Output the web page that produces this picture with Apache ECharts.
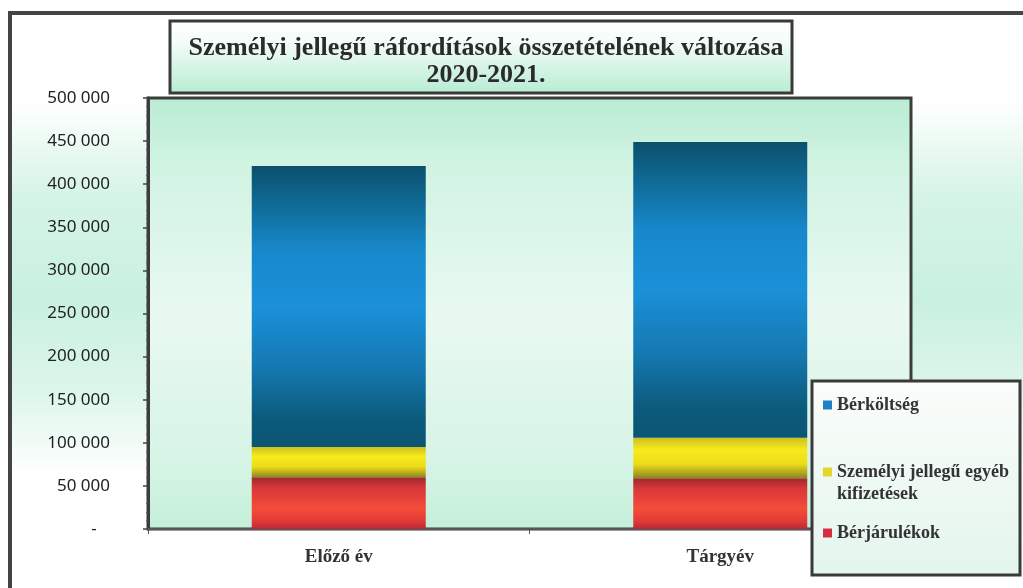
<!DOCTYPE html>
<html>
<head>
<meta charset="utf-8">
<script src="https://cdn.jsdelivr.net/npm/echarts@6/dist/echarts.min.js"></script>
<style>
html, body { margin: 0; padding: 0; background: #fff; }
#chart { width: 1023px; height: 588px; }
</style>
</head>
<body>
<div id="chart"></div>
<script>
// data
var categories = ['Előző év', 'Tárgyév'];
var berjarulekok = [60000, 59000];
var egyebKifizetesek = [35000, 47000];
var berkoltseg = [326000, 343000];
var seriesNames = ['Bérjárulékok', 'Személyi jellegű egyéb kifizetések', 'Bérköltség'];
var titleLines = ['Személyi jellegű ráfordítások összetételének változása', '2020-2021.'];

var serif = '"Liberation Serif", "DejaVu Serif", serif';

function vgrad(stops) {
    return new echarts.graphic.LinearGradient(0, 0, 0, 1, stops.map(function (s) {
        return { offset: s[0], color: s[1] };
    }));
}

// y labels: space as thousands separator, dash for zero
function fmtNum(v) {
    if (v === 0) return '-   ';
    return String(v).replace(/\B(?=(\d{3})+(?!\d))/g, ' ');
}

var legendText = { fontFamily: serif, fontWeight: 'bold', fontSize: 18, lineHeight: 22, color: '#333' };

var chart = echarts.init(document.getElementById('chart'));

chart.setOption({
    animation: false,
    title: {
        text: titleLines.join('\n'),
        left: 481,
        top: 30,
        textAlign: 'center',
        textStyle: {
            fontFamily: serif,
            fontWeight: 'bold',
            fontSize: 26,
            lineHeight: 27,
            color: '#2b2b2b'
        }
    },
    graphic: [
        {   // faint mint glow behind the whole chart area
            type: 'rect', z: -10,
            shape: { x: 12, y: 15, width: 1011, height: 573 },
            style: { fill: vgrad([[0, '#ffffff'], [0.15, '#ffffff'], [0.32, '#d4f4e5'], [0.5, '#c9f1df'], [0.66, '#ddf6ea'], [0.8, '#ffffff'], [1, '#ffffff']]) }
        },
        {   // outer frame
            type: 'rect', z: 5,
            shape: { x: 10, y: 13, width: 1040, height: 600 },
            style: { fill: null, stroke: '#444', lineWidth: 4 }
        },
        {   // title box
            type: 'rect', z: 5,
            shape: { x: 170, y: 21, width: 622, height: 72 },
            style: { fill: vgrad([[0, '#ffffff'], [0.3, '#f4fcf8'], [1, '#b6ecd2']]), stroke: '#3a3a3a', lineWidth: 3 }
        },
        {   // legend box
            type: 'rect', z: 10,
            shape: { x: 812, y: 381, width: 208, height: 194 },
            style: { fill: vgrad([[0, '#fafdfb'], [0.5, '#eff9f4'], [1, '#e3f6ec']]), stroke: '#3a3a3a', lineWidth: 3 }
        }
    ],
    legend: [
        {
            data: [{ name: seriesNames[2], itemStyle: { color: '#1e7fc2' } }],
            left: 823, top: 394, padding: 0, z: 12,
            icon: 'rect', itemWidth: 9, itemHeight: 9,
            textStyle: legendText
        },
        {
            data: [{ name: seriesNames[1], itemStyle: { color: '#e4d62a' } }],
            left: 823, top: 439, padding: 0, z: 12,
            icon: 'rect', itemWidth: 9, itemHeight: 9,
            // empty first line keeps the icon level with the first text line
            formatter: function () { return '\nSzemélyi jellegű egyéb\nkifizetések'; },
            textStyle: legendText
        },
        {
            data: [{ name: seriesNames[0], itemStyle: { color: '#d23040' } }],
            left: 823, top: 522, padding: 0, z: 12,
            icon: 'rect', itemWidth: 9, itemHeight: 9,
            textStyle: legendText
        }
    ],
    grid: {
        left: 148, right: 112, top: 98, bottom: 59,
        show: true,
        borderColor: '#3c3c3c',
        borderWidth: 3,
        backgroundColor: vgrad([[0, '#b9ecd3'], [0.15, '#d0f3e2'], [0.5, '#e9f9f1'], [0.85, '#d6f4e5'], [1, '#c4efda']])
    },
    xAxis: {
        type: 'category',
        data: categories,
        axisLine: { lineStyle: { color: '#555', width: 2 } },
        axisTick: { show: true, length: 5, lineStyle: { color: '#555' } },
        axisLabel: {
            margin: 19,
            fontFamily: serif,
            fontWeight: 'bold',
            fontSize: 19,
            color: '#333'
        }
    },
    yAxis: {
        type: 'value',
        min: 0,
        max: 500000,
        interval: 50000,
        axisLine: { show: true, lineStyle: { color: '#3c3c3c', width: 3 } },
        axisTick: { show: true, length: 5, lineStyle: { color: '#444', width: 1.5 } },
        minorTick: { show: true, splitNumber: 5, length: 2, lineStyle: { color: '#555' } },
        splitLine: { show: false },
        axisLabel: {
            margin: 38,
            formatter: fmtNum,
            fontFamily: '"Noto Sans", sans-serif',
            fontSize: 17,
            color: '#222'
        }
    },
    series: [
        {
            name: seriesNames[0],
            type: 'bar',
            stack: 'total',
            barWidth: 174,
            data: berjarulekok,
            itemStyle: { color: vgrad([[0, '#9c2a2a'], [0.2, '#d8363a'], [0.6, '#f34d39'], [0.85, '#e23a36'], [1, '#b8283a']]) }
        },
        {
            name: seriesNames[1],
            type: 'bar',
            stack: 'total',
            barWidth: 174,
            data: egyebKifizetesek,
            itemStyle: { color: vgrad([[0, '#cdbf22'], [0.3, '#f7ea1c'], [0.65, '#ecdc1a'], [1, '#8c8422']]) }
        },
        {
            name: seriesNames[2],
            type: 'bar',
            stack: 'total',
            barWidth: 174,
            data: berkoltseg,
            itemStyle: { color: vgrad([[0, '#0c4f6d'], [0.12, '#0f6891'], [0.3, '#1888cc'], [0.5, '#1b90d8'], [0.72, '#1478b0'], [0.9, '#0c5a7c'], [1, '#0b5574']]) }
        }
    ]
});
</script>
</body>
</html>
